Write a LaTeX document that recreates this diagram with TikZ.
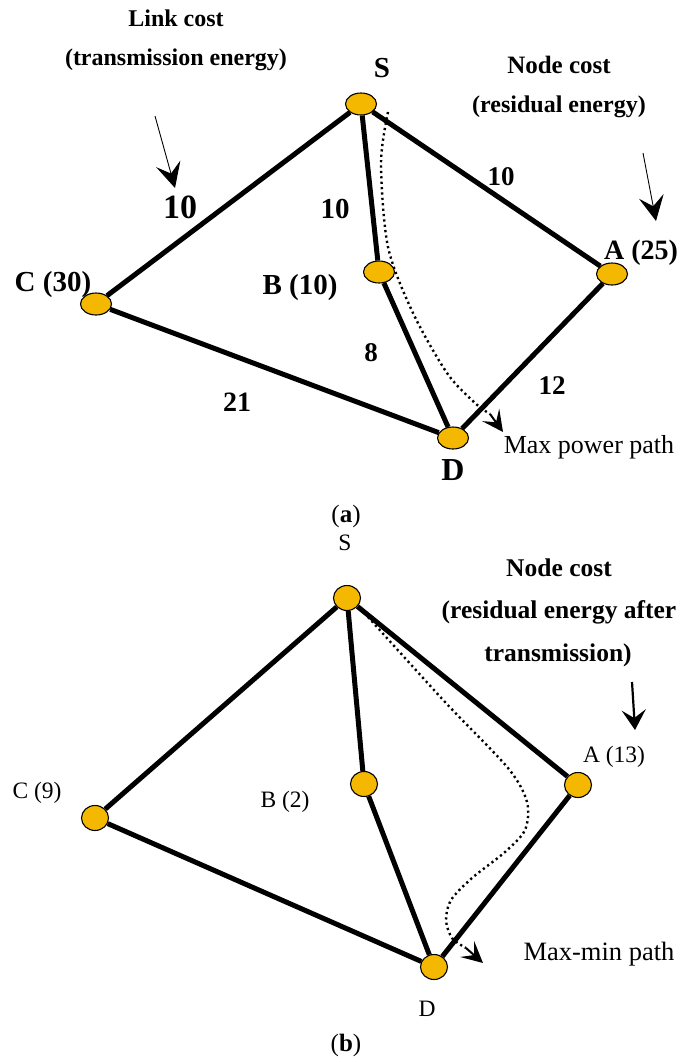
\documentclass[tikz,border=0pt]{standalone}
\usepackage{fontspec}
\setmainfont{Liberation Serif}
\usetikzlibrary{arrows.meta,shapes.geometric}
\definecolor{nodeyel}{RGB}{245,184,0}
\begin{document}
\begin{tikzpicture}[x=1pt,y=-1pt,
  vtxa/.style={ellipse,draw=black,line width=1.1pt,fill=nodeyel,minimum width=31pt,minimum height=22pt,inner sep=0pt},
  vtxb/.style={ellipse,draw=black,line width=1.1pt,fill=nodeyel,minimum width=27pt,minimum height=25pt,inner sep=0pt},
  edge/.style={line width=5pt},
  dotpath/.style={line width=2.4pt,dash pattern=on 2.2pt off 3.2pt},
  dottip/.style={line width=2pt,-{Stealth[length=21pt,width=21pt,inset=9pt]}},
  pointer/.style={line width=0.9pt,-{Stealth[length=25pt,width=25pt,inset=10pt]}},
  pointerb/.style={line width=2.2pt,-{Stealth[length=20pt,width=24pt,inset=8pt]}},
  bl/.style={inner sep=0pt,font=\fontsize{24}{28}\selectfont\bfseries},
  blb/.style={inner sep=0pt,font=\fontsize{25.5}{29}\selectfont\bfseries},
  rgb/.style={inner sep=0pt,font=\fontsize{23.5}{27}\selectfont},
]
\useasboundingbox (0,0) rectangle (682,1062);

% ---------- panel (a) ----------
\node[vtxa] (S1) at (361,104) {};
\node[vtxa] (B1) at (379,272) {};
\node[vtxa] (A1) at (612,274) {};
\node[vtxa] (C1) at (96,304) {};
\node[vtxa] (D1) at (453,438) {};
\draw[edge] (S1) -- (C1);
\draw[edge] (S1) -- (B1);
\draw[edge] (S1) -- (A1);
\draw[edge] (C1) -- (D1);
\draw[edge] (B1) -- (D1);
\draw[edge] (A1) -- (D1);

\node[bl] (lc) at (176,18) {Link cost};
\node[bl] (lce) at (176,60) {(transmission energy)};
\node[inner sep=0pt,font=\fontsize{25}{29}\selectfont\bfseries] (nc1) at (559,65) {Node cost};
\node[bl] (nce1) at (559,107) {(residual energy)};
\node[inner sep=0pt,font=\fontsize{29}{33}\selectfont\bfseries] (Sl1) at (382,68) {S};
\node[inner sep=0pt,font=\fontsize{34}{38}\selectfont\bfseries] (w1) at (180,207) {10};
\node[inner sep=0pt,font=\fontsize{29}{33}\selectfont\bfseries] (w2) at (335,209) {10};
\node[inner sep=0pt,font=\fontsize{27}{31}\selectfont\bfseries] (w3) at (501,177) {10};
\node[inner sep=0pt,font=\fontsize{27}{31}\selectfont\bfseries] (w4) at (371,353) {8};
\node[inner sep=0pt,font=\fontsize{27}{31}\selectfont\bfseries] (w5) at (552,386) {12};
\node[inner sep=0pt,font=\fontsize{28}{32}\selectfont\bfseries] (w6) at (237,402) {21};
\node[inner sep=0pt,font=\fontsize{28}{32}\selectfont\bfseries] (Al1) at (641,253) {A (25)};
\node[inner sep=0pt,font=\fontsize{29}{33}\selectfont\bfseries] (Cl1) at (53,285) {C (30)};
\node[inner sep=0pt,font=\fontsize{29}{33}\selectfont\bfseries] (Bl1) at (300,288) {B (10)};
\node[inner sep=0pt,font=\fontsize{32}{36}\selectfont\bfseries] (Dl1) at (453,470) {D};
\node[inner sep=0pt,font=\fontsize{26}{30}\selectfont] (mp) at (589,447) {Max power path};
\node[inner sep=0pt,font=\fontsize{25}{29}\selectfont] (cap1) at (346,516) {(\textbf{a})};

\coordinate (p1s) at (155,116);
\coordinate (p1e) at (175,188);
\draw[pointer] (p1s) -- (p1e);
\coordinate (p2s) at (643,153);
\coordinate (p2e) at (656,221);
\draw[pointer] (p2s) -- (p2e);

\coordinate (d1s) at (388,112);
\coordinate (d1m) at (490,414);
\coordinate (d1e) at (503,432);
\draw[dotpath] plot[smooth] coordinates {(d1s) (381,163) (388,247) (413,313) (447,373) (475,403) (d1m)};
\draw[dottip] (d1m) -- (d1e);

% ---------- panel (b) ----------
\node[vtxb] (S2) at (347,598) {};
\node[vtxb] (B2) at (364,784) {};
\node[vtxb] (A2) at (578,785) {};
\node[vtxb] (C2) at (95,818) {};
\node[vtxb] (D2) at (434,967) {};
\draw[edge] (S2) -- (C2);
\draw[edge] (S2) -- (B2);
\draw[edge] (S2) -- (A2);
\draw[edge] (C2) -- (D2);
\draw[edge] (B2) -- (D2);
\draw[edge] (A2) -- (D2);

\node[rgb] (Sl2) at (345,543) {S};
\node[blb] (nc2) at (559,568) {Node cost};
\node[blb] (nce2) at (559,612) {(residual energy after};
\node[blb] (nce3) at (558,655) {transmission)};
\node[rgb] (Al2) at (614,757) {A (13)};
\node[rgb] (Cl2) at (37,793) {C (9)};
\node[rgb] (Bl2) at (285,802) {B (2)};
\node[rgb] (Dl2) at (427,1009) {D};
\node[inner sep=0pt,font=\fontsize{26.5}{30}\selectfont] (mm) at (599,954) {Max-min path};
\node[inner sep=0pt,font=\fontsize{25}{29}\selectfont] (cap2) at (346,1045) {(\textbf{b})};

\coordinate (p3s) at (632,682);
\coordinate (p3e) at (635,730);
\draw[pointerb] (p3s) -- (p3e);

\coordinate (d2s) at (368,617);
\coordinate (d2m) at (466,948);
\coordinate (d2e) at (483,963);
\draw[dotpath] plot[smooth] coordinates {(d2s) (445,702) (508,768) (527,802) (525,830) (505,852) (472,878) (451,900) (446,920) (452,938) (d2m)};
\draw[dottip] (d2m) -- (d2e);
\end{tikzpicture}
\end{document}
